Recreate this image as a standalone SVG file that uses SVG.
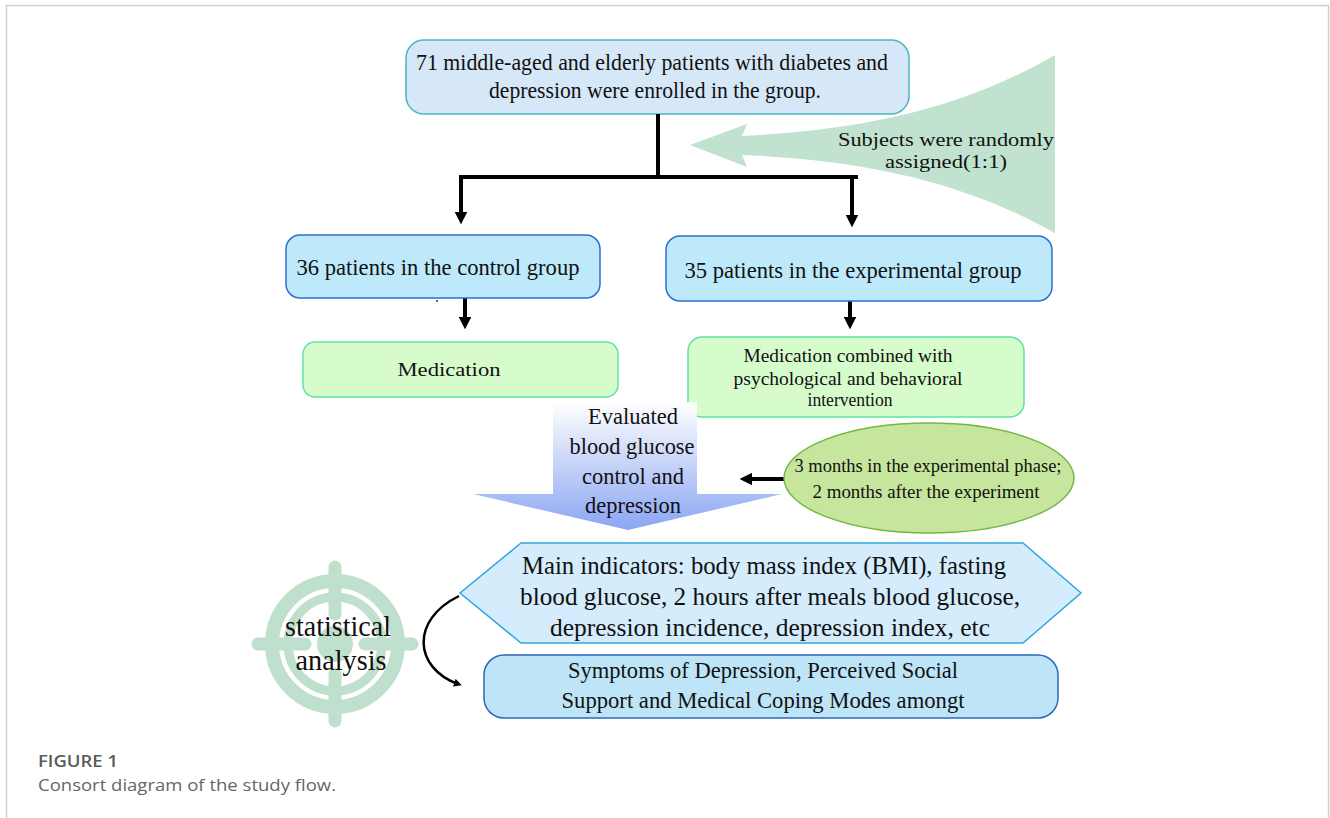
<svg xmlns="http://www.w3.org/2000/svg" width="1330" height="818" viewBox="0 0 1330 818">
<defs>
<style>
.t{font-family:"Liberation Serif","Times New Roman",serif;fill:#111;text-anchor:middle}
.c{stroke:#000;stroke-width:4;fill:none}
.cap{font-family:"Open Sans","Noto Sans",sans-serif}
</style>
<marker id="ah" viewBox="0 0 10 10" refX="5" refY="5" markerWidth="3.2" markerHeight="3.2" orient="auto" markerUnits="strokeWidth">
<path d="M0,0 L10,5 L0,10 Z" fill="#000"/>
</marker>
<linearGradient id="bg" x1="0" y1="0" x2="0" y2="1">
<stop offset="0" stop-color="#ffffff"/>
<stop offset="1" stop-color="#8aa5f2"/>
</linearGradient>
</defs>
<rect width="1330" height="818" fill="#fff"/>
<path d="M6.5,818 V5.5 H1328.5 V818" fill="none" stroke="#cfcfcf" stroke-width="1.5"/>

<g id="random">
<path d="M1055,55 C960,110 860,130 742,136 L747,124 L690,145 L747,167 L742,155 C860,160 960,180 1055,233 Z" fill="#c0e2ce"/>
<text class="t" x="946" y="146" font-size="18" textLength="216" lengthAdjust="spacingAndGlyphs">Subjects were randomly</text>
<text class="t" x="946" y="168" font-size="18" textLength="122" lengthAdjust="spacingAndGlyphs">assigned(1:1)</text>
</g>

<g id="target">
<g fill="none" stroke="#bfe0cc">
<circle cx="335" cy="644" r="63" stroke-width="14"/>
<circle cx="335" cy="644" r="47" stroke-width="9"/>
</g>
<g stroke="#bfe0cc" stroke-width="13" stroke-linecap="round">
<line x1="258" y1="644" x2="305" y2="644"/>
<line x1="365" y1="644" x2="412" y2="644"/>
<line x1="335" y1="567" x2="335" y2="614"/>
<line x1="335" y1="674" x2="335" y2="721"/>
</g>
<circle cx="335" cy="644" r="18" fill="#bfe0cc"/>
<text class="t" x="338" y="636" font-size="29" textLength="106" lengthAdjust="spacingAndGlyphs">statistical</text>
<text class="t" x="341" y="670" font-size="29" textLength="91" lengthAdjust="spacingAndGlyphs">analysis</text>
</g>

<g id="enrolled">
<rect x="406" y="40" width="503" height="74" rx="18" fill="#d6e7f7" stroke="#48b6c0" stroke-width="1.5"/>
<text class="t" x="652" y="70" font-size="24" textLength="472" lengthAdjust="spacingAndGlyphs">71 middle-aged and elderly patients with diabetes and</text>
<text class="t" x="655" y="98" font-size="24" textLength="332" lengthAdjust="spacingAndGlyphs">depression were enrolled in the group.</text>
</g>

<g id="connectors">
<line class="c" x1="658" y1="114" x2="658" y2="177"/>
<line class="c" x1="459" y1="177" x2="858" y2="177"/>
<line class="c" x1="461" y1="175" x2="461" y2="218" marker-end="url(#ah)"/>
<line class="c" x1="852" y1="175" x2="852" y2="221" marker-end="url(#ah)"/>
<line class="c" x1="465" y1="298" x2="465" y2="323" marker-end="url(#ah)"/>
<line class="c" x1="850" y1="301" x2="850" y2="323" marker-end="url(#ah)"/>
<line class="c" x1="788" y1="479" x2="746" y2="479" marker-end="url(#ah)"/>
<path d="M459,596 C410,620 414,668 458,684" fill="none" stroke="#000" stroke-width="2.5" marker-end="url(#ah)"/>
</g>

<g id="control">
<rect x="286" y="235" width="314" height="63" rx="14" fill="#bde9fb" stroke="#2f6fd0" stroke-width="1.5"/>
<text class="t" x="438" y="275" font-size="23" textLength="283" lengthAdjust="spacingAndGlyphs">36 patients in the control group</text>
<circle cx="437" cy="301" r="1" fill="#333"/>
</g>

<g id="experimental">
<rect x="666" y="236" width="386" height="65" rx="14" fill="#bde9fb" stroke="#2f6fd0" stroke-width="1.5"/>
<text class="t" x="853" y="278" font-size="23" textLength="337" lengthAdjust="spacingAndGlyphs">35 patients in the experimental group</text>
</g>

<g id="medication">
<rect x="303" y="342" width="315" height="55" rx="12" fill="#d6fccb" stroke="#5fe3a5" stroke-width="1.5"/>
<text class="t" x="449" y="376" font-size="19" textLength="103" lengthAdjust="spacingAndGlyphs">Medication</text>
</g>

<g id="combined">
<rect x="688" y="337" width="336" height="80" rx="14" fill="#d6fccb" stroke="#5fe3a5" stroke-width="1.5"/>
<text class="t" x="848" y="362" font-size="18" textLength="209" lengthAdjust="spacingAndGlyphs">Medication combined with</text>
<text class="t" x="848" y="385" font-size="18" textLength="229" lengthAdjust="spacingAndGlyphs">psychological and behavioral</text>
<text class="t" x="850" y="406" font-size="18" textLength="85" lengthAdjust="spacingAndGlyphs">intervention</text>
</g>

<g id="evaluated">
<path d="M553,402 H697 V494 H782 L628,530 L473,494 H553 Z" fill="url(#bg)"/>
<text class="t" x="633" y="424" font-size="23" textLength="90" lengthAdjust="spacingAndGlyphs">Evaluated</text>
<text class="t" x="632" y="454" font-size="23" textLength="125" lengthAdjust="spacingAndGlyphs">blood glucose</text>
<text class="t" x="633" y="484" font-size="23" textLength="102" lengthAdjust="spacingAndGlyphs">control and</text>
<text class="t" x="633" y="513" font-size="23" textLength="96" lengthAdjust="spacingAndGlyphs">depression</text>
</g>

<g id="phase">
<ellipse cx="929" cy="478" rx="145" ry="55" fill="#c6e59d" stroke="#74b842" stroke-width="1.5"/>
<text class="t" x="928" y="472" font-size="18" textLength="267" lengthAdjust="spacingAndGlyphs">3 months in the experimental phase;</text>
<text class="t" x="926" y="498" font-size="18" textLength="227" lengthAdjust="spacingAndGlyphs">2 months after the experiment</text>
</g>

<g id="indicators">
<path d="M460,593 L521,543 H1023 L1081,593 L1023,643 H521 Z" fill="#d4ecfb" stroke="#2fa6df" stroke-width="1.5"/>
<text class="t" x="764" y="574" font-size="25" textLength="484" lengthAdjust="spacingAndGlyphs">Main indicators: body mass index (BMI), fasting</text>
<text class="t" x="770" y="605" font-size="25" textLength="500" lengthAdjust="spacingAndGlyphs">blood glucose, 2 hours after meals blood glucose,</text>
<text class="t" x="770" y="636" font-size="25" textLength="440" lengthAdjust="spacingAndGlyphs">depression incidence, depression index, etc</text>
</g>

<g id="symptoms">
<rect x="484" y="655" width="574" height="63" rx="20" fill="#bde4f7" stroke="#2c6ab8" stroke-width="1.5"/>
<text class="t" x="763" y="678" font-size="23" textLength="390" lengthAdjust="spacingAndGlyphs">Symptoms of Depression, Perceived Social</text>
<text class="t" x="763" y="708" font-size="23" textLength="403" lengthAdjust="spacingAndGlyphs">Support and Medical Coping Modes amongt</text>
</g>

<g id="caption">
<text class="cap" x="38" y="767" font-size="17" font-weight="600" fill="#5a5a5a" textLength="80" lengthAdjust="spacingAndGlyphs">FIGURE 1</text>
<text class="cap" x="38" y="791" font-size="17" fill="#666" textLength="298" lengthAdjust="spacingAndGlyphs">Consort diagram of the study flow.</text>
</g>
</svg>
